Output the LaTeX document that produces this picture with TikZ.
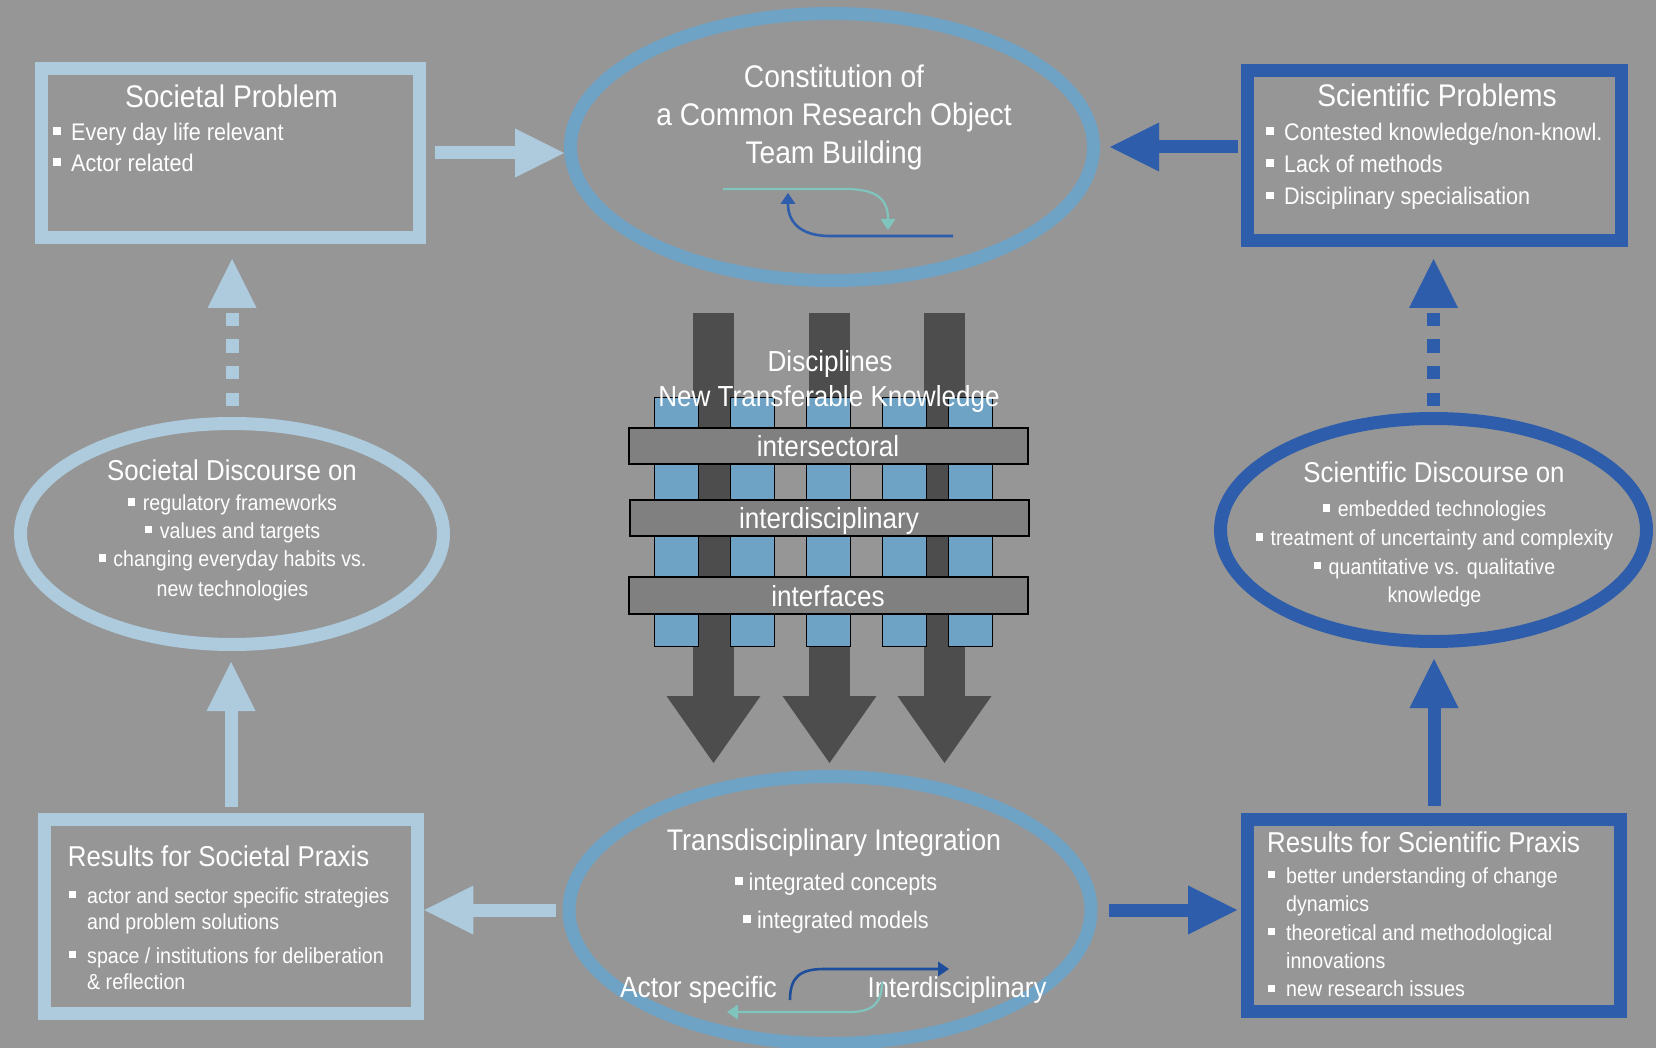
\documentclass[tikz,border=0pt]{standalone}
\usepackage{fontspec}
\setmainfont{Liberation Sans}[FakeStretch=0.9]
\usetikzlibrary{arrows.meta,shapes.geometric}
\definecolor{bg}{RGB}{150,150,150}
\definecolor{lightb}{RGB}{174,202,221}
\definecolor{midb}{RGB}{110,163,198}
\definecolor{darkb}{RGB}{45,93,171}
\definecolor{navy}{RGB}{30,78,155}
\definecolor{teal}{RGB}{128,197,189}
\definecolor{darkg}{RGB}{77,77,77}
\definecolor{barg}{RGB}{128,128,128}
\newcommand\sqb{\rule[0.23em]{0.33em}{0.33em}}
\newcommand\bul{\makebox[18pt][l]{\sqb}}
\newcommand\fT{\fontsize{31.3}{36}\selectfont}
\newcommand\fM{\fontsize{29}{34}\selectfont}
\newcommand\fB{\fontsize{24}{29}\selectfont}
\newcommand\fS{\fontsize{21.8}{26}\selectfont}
\begin{document}
\begin{tikzpicture}[x=1pt,y=-1pt,
  box/.style={rectangle,draw,line width=13pt,inner sep=0pt},
  oval/.style={ellipse,draw,line width=13pt,inner sep=0pt},
  txt/.style={text=white,inner sep=0pt,anchor=base},
  txtw/.style={text=white,inner sep=0pt,anchor=base west},
  fat/.style={line width=13pt,-{Triangle[length=49pt,width=49pt,line width=0pt]}},
  dotfat/.style={fat,dash pattern=on 13.3pt off 13.4pt},
  thinarr/.style={line width=2.2pt,-{Triangle[length=11pt,width=15pt,line width=0pt]}},
  downarr/.style={line width=41pt,draw=darkg,-{Triangle[length=67pt,width=94pt,line width=0pt]}},
  sqr/.style={fill=midb,draw=black,line width=1pt},
  bar/.style={fill=barg,draw=black,line width=1.2pt}]
\path[use as bounding box,fill=bg] (0,0) rectangle (1656,1048);
\clip (0,0) rectangle (1656,1048);

% main shapes
\node[box,draw=lightb,minimum width=378pt,minimum height=169pt] (sp) at (230.5,153) {};
\node[oval,draw=midb,minimum width=523pt,minimum height=267pt] (top) at (832,147) {};
\node[box,draw=darkb,minimum width=374pt,minimum height=170pt] (scp) at (1434.5,155.5) {};
\node[oval,draw=lightb,minimum width=423pt,minimum height=221pt] (sdisc) at (232,534) {};
\node[oval,draw=darkb,minimum width=426pt,minimum height=223pt] (scdisc) at (1433.5,530) {};
\node[oval,draw=midb,minimum width=522pt,minimum height=267pt] (bot) at (830,910) {};
\node[box,draw=lightb,minimum width=373.5pt,minimum height=194pt] (rsp) at (231,916.5) {};
\node[box,draw=darkb,minimum width=373pt,minimum height=192pt] (rscp) at (1434,915.5) {};

% connectors
\draw[fat,draw=lightb,shorten <=9pt] (sp.east) -- (sp.east -| top.west);
\draw[fat,draw=darkb,shorten <=3pt,shorten >=10pt] (scp.west |- top.east) -- (top.east);
\draw[dotfat,draw=lightb,shorten <=11pt,shorten >=15pt] (sdisc.north) -- (sdisc.north |- sp.south);
\draw[dotfat,draw=darkb,shorten <=6pt,shorten >=12pt] (scdisc.north) -- (scdisc.north |- scp.south);
\draw[fat,draw=lightb,shorten <=6pt,shorten >=11pt] (rsp.north) -- (rsp.north |- sdisc.south);
\draw[fat,draw=darkb,shorten <=7pt,shorten >=11pt] (rscp.north) -- (rscp.north |- scdisc.south);
\draw[fat,draw=lightb,shorten <=7pt] (bot.west) -- (bot.west -| rsp.east);
\draw[fat,draw=darkb,shorten <=11pt,shorten >=4pt] (bot.east) -- (bot.east -| rscp.west);

% weave
\draw[downarr] (713.5,313) -- (713.5,763);
\draw[downarr] (829.5,313) -- (829.5,763);
\draw[downarr] (944.5,313) -- (944.5,763);
\foreach \x in {654,730,806,882,948}{
  \foreach \a/\b in {397/428,464/500,536/577,614/646}{
    \draw[sqr] (\x,\a) rectangle (\x+44,\b);}}
\draw[bar] (629,428) rectangle (1028,464);
\draw[bar] (630,500) rectangle (1029,536);
\draw[bar] (629,577) rectangle (1028,614);
\node[txt,font=\fM] (wd) at (830,371.5) {Disciplines};
\node[txt,font=\fM] (wn) at (829,406.5) {New Transferable Knowledge};
\node[txt,font=\fM] (w1) at (828,456.7) {intersectoral};
\node[txt,font=\fM] (w2) at (829,528) {interdisciplinary};
\node[txt,font=\fM] (w3) at (828,606) {interfaces};

% Societal Problem
\node[txt,font=\fT] (spT) at (231.5,107.3) {Societal Problem};
\node[txtw,font=\fB] (sp1) at (53,140.7) {\bul Every day life relevant};
\node[txtw,font=\fB] (sp2) at (53,171.7) {\bul Actor related};

% Top ellipse
\node[txt,font=\fT] (t1) at (834,88) {Constitution of};
\node[txt,font=\fT] (t2) at (834,126) {a Common Research Object};
\node[txt,font=\fT] (t3) at (834,164) {Team Building};
\coordinate (ta0) at (723,189);
\coordinate (ta1) at (888,230);
\coordinate (tb0) at (953,236);
\coordinate (tb1) at (788,193);
\draw[thinarr,draw=teal] (ta0) -- (846,189) .. controls (880,189) and (888,202) .. (ta1);
\draw[thinarr,draw=darkb,line width=2.6pt] (tb0) -- (830,236) .. controls (798,236) and (788,220) .. (tb1);

% Scientific Problems
\node[txt,font=\fT] (scT) at (1437,107) {Scientific Problems};
\node[txtw,font=\fB] (sc1) at (1266,140.7) {\bul Contested knowledge/non-knowl.};
\node[txtw,font=\fB] (sc2) at (1266,172.7) {\bul Lack of methods};
\node[txtw,font=\fB] (sc3) at (1266,205) {\bul Disciplinary specialisation};

% Societal Discourse
\node[txt,font=\fontsize{28.7}{34}\selectfont] (sdT) at (232,480.7) {Societal Discourse on};
\node[txt,font=\fS] (sd1) at (232.5,510.7) {\sqb\hspace{7.7pt}regulatory frameworks};
\node[txt,font=\fS] (sd2) at (232.5,538.3) {\sqb\hspace{7.7pt}values and targets};
\node[txt,font=\fS] (sd3) at (232.5,566.7) {\sqb\hspace{7.7pt}changing everyday habits vs.};
\node[txt,font=\fS] (sd4) at (232.5,596) {new technologies};

% Scientific Discourse
\node[txt,font=\fontsize{28.7}{34}\selectfont] (cdT) at (1434,482.7) {Scientific Discourse on};
\node[txt,font=\fS] (cd1) at (1434.5,516.7) {\sqb\hspace{7.7pt}embedded technologies};
\node[txt,font=\fS] (cd2) at (1434.5,545.7) {\sqb\hspace{7.7pt}treatment of uncertainty and complexity};
\node[txt,font=\fS] (cd3) at (1434.5,574) {\sqb\hspace{7.7pt}quantitative vs. qualitative};
\node[txt,font=\fS] (cd4) at (1434.5,602.7) {knowledge};

% Bottom ellipse
\node[txt,font=\fontsize{29.8}{35}\selectfont] (bT) at (834,850.7) {Transdisciplinary Integration};
\node[txt,font=\fB] (b1) at (836,890.7) {\sqb\hspace{6pt}integrated concepts};
\node[txt,font=\fB] (b2) at (836,928.3) {\sqb\hspace{6pt}integrated models};
\node[txt,font=\fontsize{29.3}{34}\selectfont] (bA) at (698.5,997.3) {Actor specific};
\node[txt,font=\fontsize{28.6}{34}\selectfont] (bI) at (957,997.3) {Interdisciplinary};
\coordinate (ba0) at (790,1000);
\coordinate (ba1) at (949,969);
\coordinate (bb0) at (882,982);
\coordinate (bb1) at (727,1012);
\draw[thinarr,draw=navy,line width=2.6pt] (ba0) .. controls (790,977) and (800,969) .. (824,969) -- (ba1);
\draw[thinarr,draw=teal] (bb0) .. controls (882,1004) and (872,1012) .. (849,1012) -- (bb1);

% Results for Societal Praxis
\node[txtw,font=\fontsize{28.7}{34}\selectfont] (rsT) at (67.7,866.7) {Results for Societal Praxis};
\node[txtw,font=\fS] (rs1) at (69,903.3) {\bul actor and sector specific strategies};
\node[txtw,font=\fS] (rs1b) at (87,929.3) {and problem solutions};
\node[txtw,font=\fS] (rs2) at (69,963.3) {\bul space / institutions for deliberation};
\node[txtw,font=\fS] (rs2b) at (87,989.3) {\& reflection};

% Results for Scientific Praxis
\node[txtw,font=\fontsize{28.7}{34}\selectfont] (rcT) at (1267,852.7) {Results for Scientific Praxis};
\node[txtw,font=\fS] (rc1) at (1268,883.3) {\bul better understanding of change};
\node[txtw,font=\fS] (rc1b) at (1286,911.7) {dynamics};
\node[txtw,font=\fS] (rc2) at (1268,940) {\bul theoretical and methodological};
\node[txtw,font=\fS] (rc2b) at (1286,968.3) {innovations};
\node[txtw,font=\fS] (rc3) at (1268,996.7) {\bul new research issues};
\end{tikzpicture}
\end{document}
